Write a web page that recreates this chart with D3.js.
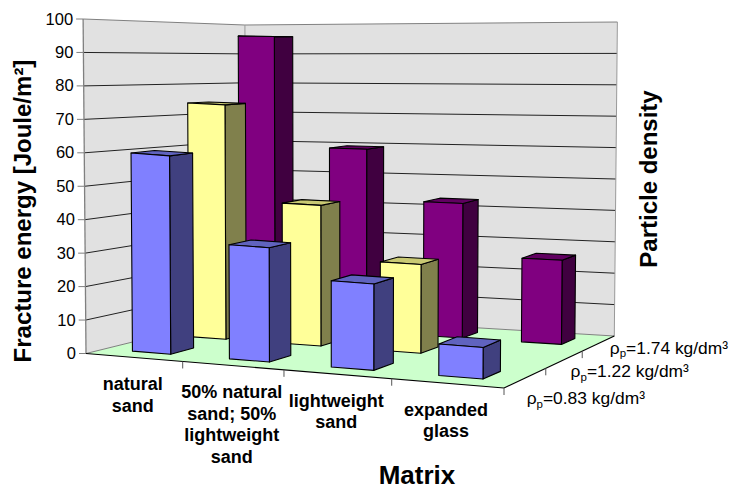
<!DOCTYPE html>
<html><head><meta charset="utf-8">
<script src="https://cdn.jsdelivr.net/npm/d3@7"></script>
<style>html,body{margin:0;padding:0;background:#fff}svg{display:block}text{font-family:"Liberation Sans",Arial,sans-serif;fill:#000}</style>
</head><body><svg id="c" width="731" height="489"></svg>
<script>
const categories=[["natural","sand"],["50% natural","sand; 50%","lightweight","sand"],["lightweight","sand"],["expanded","glass"]];
const seriesNames=["0.83","1.22","1.74"];
const seriesFront=[60,34.5,26,9.5];
const seriesMiddle=[74,44,27.5,null];
const seriesBack=[95.5,59.3,43,26.5];
const yTicks=d3.range(0,101,10);
const front=["#8080ff","#ffff99","#800080"],side=["#40407f","#80804c","#400040"],top_=["#6063bf","#c9c973","#600060"];

const svg=d3.select("#c");
function homography(A,B,C,D){
  const dx1=B[0]-C[0],dx2=D[0]-C[0],sx=A[0]-B[0]+C[0]-D[0];
  const dy1=B[1]-C[1],dy2=D[1]-C[1],sy=A[1]-B[1]+C[1]-D[1];
  const den=dx1*dy2-dx2*dy1,g=(sx*dy2-dx2*sy)/den,h=(dx1*sy-sx*dy1)/den;
  const a=B[0]-A[0]+g*B[0],b=D[0]-A[0]+h*D[0],c=A[0],d=B[1]-A[1]+g*B[1],e=D[1]-A[1]+h*D[1],f=A[1];
  return (u,w)=>{const s=g*u+h*w+1;return [(a*u+b*w+c)/s,(d*u+e*w+f)/s];};
}
const floorH=homography([86,353.5],[504,388],[614.3,336],[246,314]);
const hgt={A:334.5,B:335,C:314,D:289};
const P=(u,w,t)=>{const p=floorH(u,w);
  const H=hgt.A*(1-u)*(1-w)+hgt.B*u*(1-w)+hgt.C*u*w+hgt.D*(1-u)*w;
  return [p[0]+(p[0]-342)*0.0113*t,p[1]-H*t];};

const uScale=d3.scaleLinear().domain([0,1,2,3,4]).range([0,.2644,.518,.7648,1]);
const wScale=d3.scaleLinear().domain([0,seriesNames.length]).range([0,1]);
const vScale=d3.scaleLinear().domain([0,100]).range([0,1]);
const poly=(pts,fill,stroke,sw)=>svg.append("polygon").attr("points",pts.map(p=>p.join(",")).join(" ")).attr("fill",fill).attr("stroke",stroke||"none").attr("stroke-width",sw||1).attr("stroke-linejoin","round");
const line=(p,q,col,sw)=>svg.append("line").attr("x1",p[0]).attr("y1",p[1]).attr("x2",q[0]).attr("y2",q[1]).attr("stroke",col).attr("stroke-width",sw||1);

// walls
poly([P(0,0,0),P(0,1,0),P(0,1,1),P(0,0,1)],"#e1e1e1");
poly([P(0,1,0),P(1,1,0),P(1,1,1),P(0,1,1)],"#e1e1e1");
// floor
poly([P(0,0,0),P(1,0,0),P(1,1,0),P(0,1,0)],"#ccffcc");
// gridlines
yTicks.forEach(v=>{const t=vScale(v);
  const col=(v===100)?"#808080":(v===0?"#808080":"#222");
  line(P(0,0,t),P(0,1,t),col,1);line(P(0,1,t),P(1,1,t),col,1);
});
line(P(0,0,0),P(0,0,1),"#808080",1.3);
line(P(0,1,0),P(0,1,1),"#999",1);
line(P(1,1,0),P(1,1,1),"#999",1);
// y ticks
yTicks.forEach(v=>{const p=P(0,0,vScale(v));
  line([p[0]-7,p[1]],p,"#808080",1);
  svg.append("text").attr("x",p[0]-10).attr("y",p[1]+5.5).attr("text-anchor","end").attr("font-size",16.5).attr("fill","#000").text(v);
});
// floor front edges and ticks
line(P(0,0,0),P(1,0,0),"#000",1.1);line(P(1,0,0),P(1,1,0),"#000",1.1);
d3.range(1,categories.length+1).forEach(i=>{const p=P(uScale(i),0,0);line(p,[p[0],p[1]+7],"#555",1);});
d3.range(1,seriesNames.length).forEach(i=>{const p=P(1,wScale(i),0);line(p,[p[0],p[1]+7],"#555",1);});
// bars back to front
const rows=[seriesFront,seriesMiddle,seriesBack];
[2,1,0].forEach(r=>{
  const w0=wScale(r+.3),w1=wScale(r+.7);
  rows[r].forEach((val,i)=>{
    if(val==null)return;
    const u0=uScale(i+.3),u1=uScale(i+.7),t=vScale(val);
    poly([P(u1,w0,0),P(u1,w1,0),P(u1,w1,t),P(u1,w0,t)],side[r],"#000",1.1);
    poly([P(u0,w0,t),P(u1,w0,t),P(u1,w1,t),P(u0,w1,t)],top_[r],"#000",1.1);
    poly([P(u0,w0,0),P(u1,w0,0),P(u1,w0,t),P(u0,w0,t)],front[r],"#000",1.1);
  });
});
// category labels
categories.forEach((ls,i)=>{const p=P(uScale(i+.5),0,0);
  const tx=svg.append("text").attr("text-anchor","middle").attr("font-weight","bold").attr("font-size",18);
  ls.forEach((l,j)=>tx.append("tspan").attr("x",p[0]-.5).attr("y",p[1]+32.5+j*21.7).text(l));
});
// series labels
const labelOff=[[1,26.5],[6,18],[11,10.5]];
seriesNames.forEach((n,i)=>{const p=P(1,wScale(i+.5),0);
  const tx=svg.append("text").attr("x",p[0]+labelOff[i][0]).attr("y",p[1]+labelOff[i][1]).attr("font-size",17.4);
  tx.append("tspan").text("ρ");
  tx.append("tspan").attr("font-size",11.5).attr("dy",3.5).text("p");
  tx.append("tspan").attr("dy",-3.5).text("="+n+" kg/dm³");
});
// titles
svg.append("text").attr("x",417).attr("y",484).attr("text-anchor","middle").attr("font-weight","bold").attr("font-size",26).text("Matrix");
svg.append("text").attr("transform","translate(31,211) rotate(-90)").attr("text-anchor","middle").attr("font-weight","bold").attr("font-size",24).text("Fracture energy [Joule/m²]");
svg.append("text").attr("transform","translate(657,179) rotate(-90)").attr("text-anchor","middle").attr("font-weight","bold").attr("font-size",24).text("Particle density");
</script></body></html>
